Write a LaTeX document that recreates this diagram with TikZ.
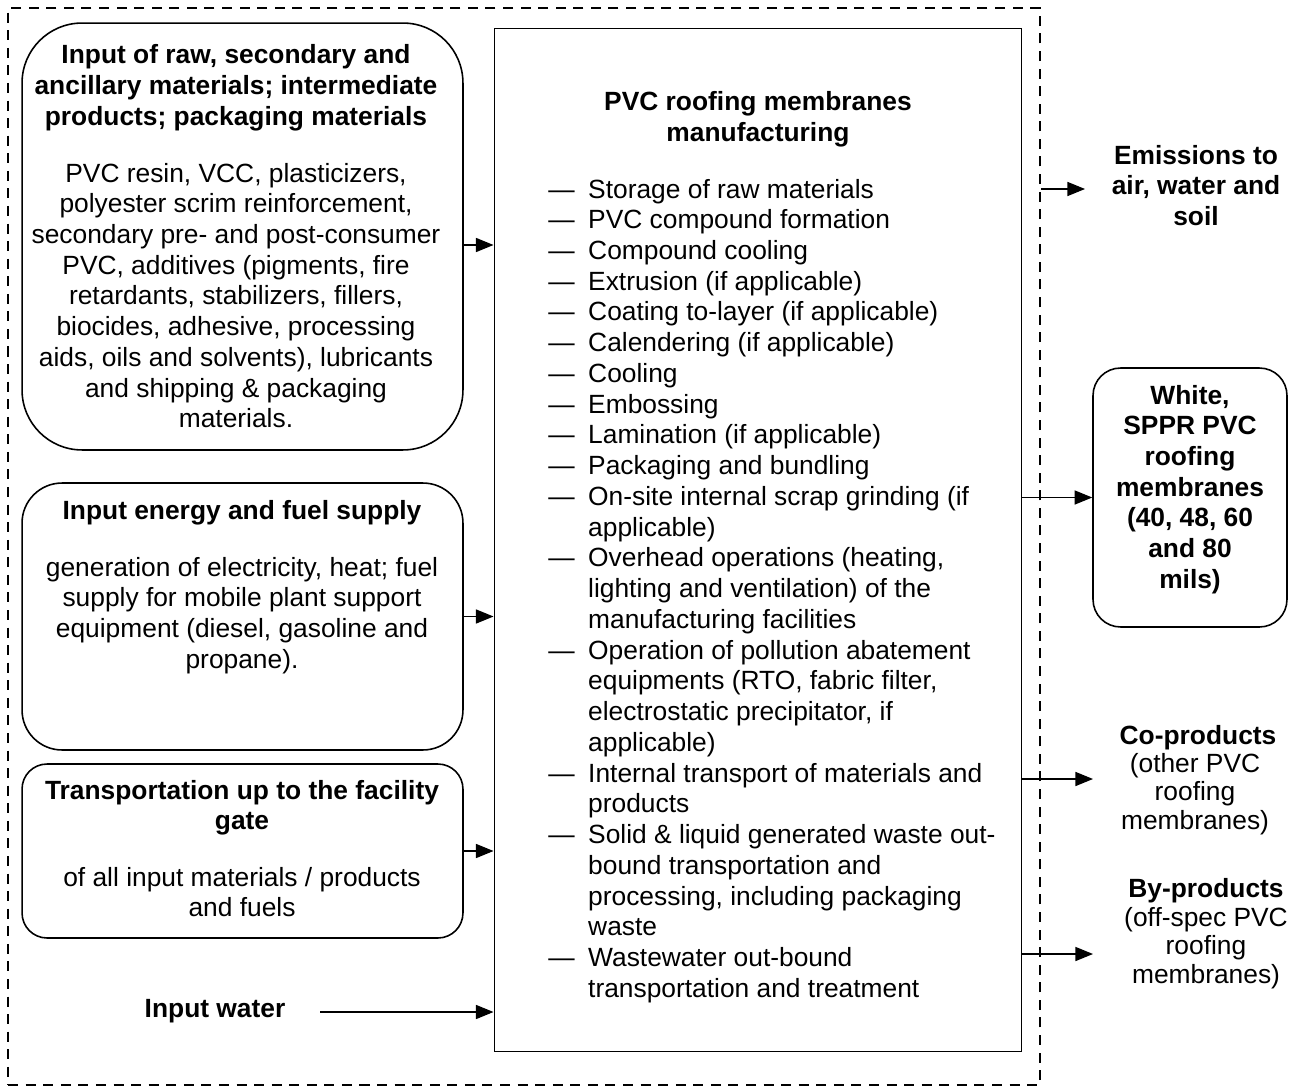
\documentclass[tikz,border=0pt]{standalone}
\usepackage{fontspec}
\setmainfont{Liberation Sans}
\usetikzlibrary{arrows.meta,calc}
\newcommand{\ctab}[1]{\begin{tabular}[t]{@{}c@{}}#1\end{tabular}}
\newcommand{\fs}{\fontsize{15}{17.5}\selectfont}
\newcommand{\fss}{\fontsize{15}{16.3}\selectfont}
\begin{document}
\begin{tikzpicture}[x=0.02cm,y=-0.02cm,
  rbox/.style={draw, line width=0.9pt, inner sep=0pt},
  mbox/.style={draw, line width=0.6pt, inner sep=0pt},
  txt/.style={inner sep=0pt, anchor=base, font=\fs},
  btxt/.style={txt, font=\fs\bfseries},
  arr/.style={line width=0.7pt, -{Triangle[length=10pt,width=8pt]}},
  border/.style={draw, line width=1.5pt, dash pattern=on 5.7pt off 4.3pt, inner sep=0pt}]
\useasboundingbox (0,0) rectangle (1298,1088);
% system boundary
\node[border, minimum width=20.64cm, minimum height=21.54cm] (sys) at (524,546.5) {};
% boxes
\node[rbox, rounded corners=1.2cm, minimum width=8.82cm, minimum height=8.54cm] (b1) at (242.5,236.5) {};
\node[rbox, rounded corners=0.8cm, minimum width=8.82cm, minimum height=5.34cm] (b2) at (242.5,616.5) {};
\node[rbox, rounded corners=0.5cm, minimum width=8.82cm, minimum height=3.48cm] (b3) at (242.5,851) {};
\node[mbox, minimum width=10.56cm, minimum height=20.48cm] (main) at (758,540) {};
\node[rbox, rounded corners=0.55cm, minimum width=3.88cm, minimum height=5.18cm] (white) at (1190,497.5) {};
% texts
\node[btxt] (b1t) at (236,64) {\ctab{Input of raw, secondary and\\ ancillary materials; intermediate\\ products; packaging materials}};
\node[txt] (b1b) at (236,182) {\ctab{PVC resin, VCC, plasticizers,\\ polyester scrim reinforcement,\\ secondary pre- and post-consumer\\ PVC, additives (pigments, fire\\ retardants, stabilizers, fillers,\\ biocides, adhesive, processing\\ aids, oils and solvents), lubricants\\ and shipping \& packaging\\ materials.}};
\node[btxt] (b2t) at (242,519) {Input energy and fuel supply};
\node[txt] (b2b) at (242,576) {\ctab{generation of electricity, heat; fuel\\ supply for mobile plant support\\ equipment (diesel, gasoline and\\ propane).}};
\node[btxt] (b3t) at (242,799) {\ctab{Transportation up to the facility\\ gate}};
\node[txt] (b3b) at (242,886) {\ctab{of all input materials / products\\ and fuels}};
\node[btxt] (water) at (215,1017) {Input water};
\node[btxt] (mt) at (758,111) {\ctab{PVC roofing membranes\\ manufacturing}};
\node[txt, anchor=base west] (steps) at (548,198) {\begin{tabular}[t]{@{}l@{\hspace{7.7pt}}l@{}}
— & Storage of raw materials\\
— & PVC compound formation\\
— & Compound cooling\\
— & Extrusion (if applicable)\\
— & Coating to-layer (if applicable)\\
— & Calendering (if applicable)\\
— & Cooling\\
— & Embossing\\
— & Lamination (if applicable)\\
— & Packaging and bundling\\
— & On-site internal scrap grinding (if\\
  & applicable)\\
— & Overhead operations (heating,\\
  & lighting and ventilation) of the\\
  & manufacturing facilities\\
— & Operation of pollution abatement\\
  & equipments (RTO, fabric filter,\\
  & electrostatic precipitator, if\\
  & applicable)\\
— & Internal transport of materials and\\
  & products\\
— & Solid \& liquid generated waste out-\\
  & bound transportation and\\
  & processing, including packaging\\
  & waste\\
— & Wastewater out-bound\\
  & transportation and treatment
\end{tabular}};
\node[btxt] (emis) at (1196,164) {\ctab{Emissions to\\ air, water and\\ soil}};
\node[btxt] (wt) at (1190,404) {\ctab{White,\\ SPPR PVC\\ roofing\\ membranes\\ (40, 48, 60\\ and 80\\ mils)}};
\node[btxt] (cot) at (1198,744) {Co-products};
\node[txt, font=\fss] (cob) at (1195,772) {\ctab{(other PVC\\ roofing\\ membranes)}};
\node[btxt] (byt) at (1206,897) {By-products};
\node[txt, font=\fss] (byb) at (1206,926) {\ctab{(off-spec PVC\\ roofing\\ membranes)}};
% connectors
\draw[arr] ($(b1.east)+(0,8.5)$) coordinate (a1) -- (a1 -| main.west);
\draw[arr] (b2.east) -- (b2.east -| main.west);
\draw[arr] (b3.east) -- (b3.east -| main.west);
\coordinate (w1) at (320,1012);
\draw[arr] (w1) -- (w1 -| main.west);
\draw[arr] (main.east |- white.west) -- (white.west);
\coordinate (e2) at (1085,189);
\draw[arr] (e2 -| sys.east) -- (e2);
\coordinate (c2) at (1093,779);
\draw[arr] (c2 -| main.east) -- (c2);
\coordinate (d2) at (1093,954);
\draw[arr] (d2 -| main.east) -- (d2);
\end{tikzpicture}
\end{document}
